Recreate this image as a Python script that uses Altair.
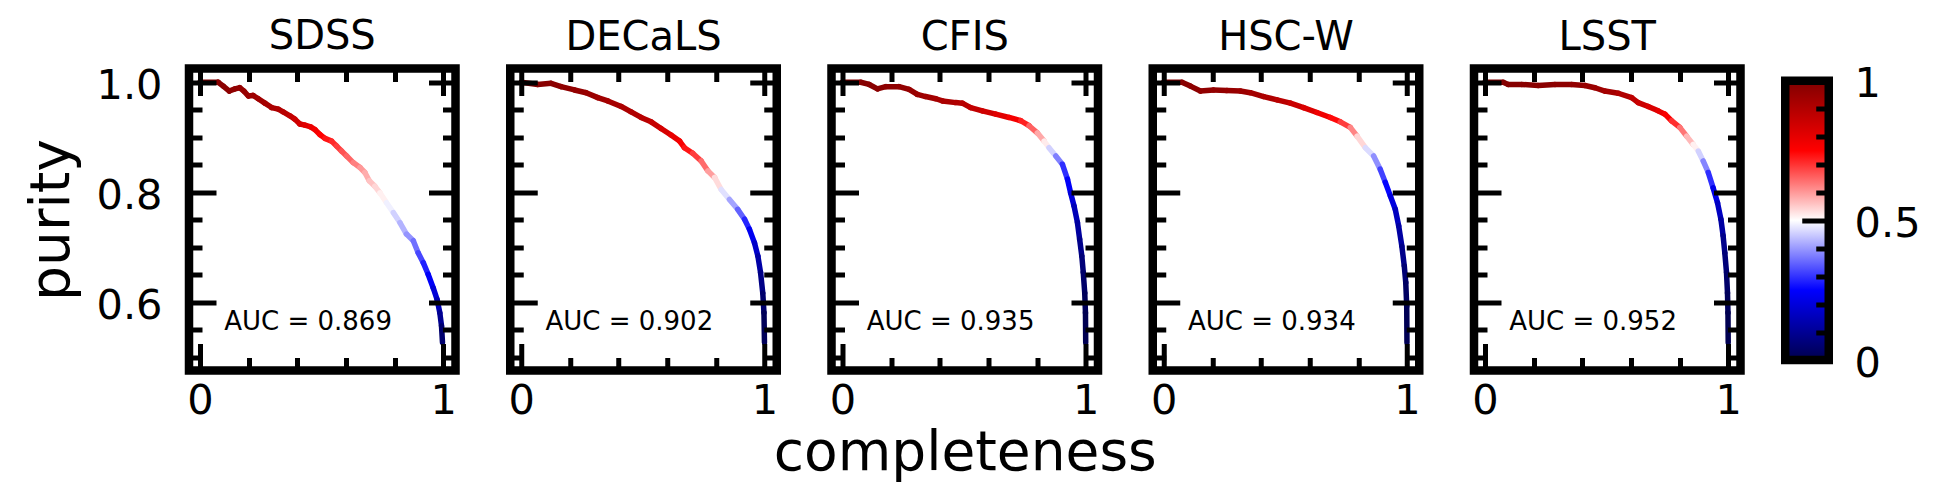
import altair as alt
import pandas as pd

FONT = "DejaVu Sans"

SURVEYS = ["SDSS", "DECaLS", "CFIS", "HSC-W", "LSST"]
AUC_LABELS = ["AUC = 0.869", "AUC = 0.902", "AUC = 0.935", "AUC = 0.934", "AUC = 0.952"]
AUC_X = 0.1
AUC_Y = 0.55

SDSS_C = [0.0, 0.075, 0.096, 0.121, 0.144, 0.164, 0.181, 0.199, 0.219, 0.240, 0.267, 0.295, 0.322, 0.342,
          0.370, 0.390, 0.411, 0.432, 0.455, 0.473, 0.493, 0.514, 0.541, 0.562, 0.582, 0.603, 0.630, 0.658,
          0.678, 0.696, 0.719, 0.740, 0.767, 0.795, 0.822, 0.849, 0.877, 0.897, 0.918, 0.938, 0.959, 0.975,
          0.986, 0.993, 0.997]
SDSS_P = [1.0, 1.0, 0.993, 0.984, 0.988, 0.990, 0.984, 0.975, 0.976, 0.970, 0.962, 0.954, 0.951, 0.946,
          0.939, 0.933, 0.924, 0.922, 0.919, 0.914, 0.905, 0.898, 0.893, 0.884, 0.875, 0.866, 0.854, 0.845,
          0.836, 0.821, 0.811, 0.799, 0.781, 0.763, 0.745, 0.724, 0.712, 0.690, 0.672, 0.651, 0.626, 0.605,
          0.581, 0.557, 0.527]
SDSS_T = [1.0, 0.99, 0.98, 0.975, 0.97, 0.965, 0.96, 0.95, 0.945, 0.94, 0.93, 0.92, 0.91, 0.90,
          0.88, 0.86, 0.84, 0.82, 0.80, 0.78, 0.76, 0.74, 0.72, 0.70, 0.68, 0.66, 0.64, 0.61,
          0.59, 0.57, 0.55, 0.53, 0.50, 0.47, 0.44, 0.41, 0.38, 0.34, 0.30, 0.26, 0.22, 0.17,
          0.12, 0.07, 0.02]

DECALS_C = [0.0, 0.068, 0.123, 0.164, 0.219, 0.267, 0.315, 0.356, 0.411, 0.452, 0.493, 0.534, 0.575, 0.616,
            0.651, 0.671, 0.705, 0.740, 0.767, 0.795, 0.822, 0.856, 0.890, 0.918, 0.938, 0.959, 0.973, 0.984,
            0.993, 0.998, 1.0]
DECALS_P = [1.0, 0.996, 0.998, 0.992, 0.986, 0.981, 0.972, 0.966, 0.956, 0.946, 0.936, 0.928, 0.916, 0.904,
            0.893, 0.881, 0.871, 0.857, 0.839, 0.827, 0.805, 0.787, 0.769, 0.751, 0.733, 0.708, 0.684, 0.654,
            0.617, 0.581, 0.527]
DECALS_T = [1.0, 0.99, 0.98, 0.975, 0.965, 0.955, 0.945, 0.93, 0.92, 0.91, 0.90, 0.88, 0.85, 0.81,
            0.78, 0.75, 0.71, 0.67, 0.62, 0.57, 0.50, 0.44, 0.38, 0.31, 0.26, 0.20, 0.15, 0.10,
            0.06, 0.03, 0.0]

CFIS_C = [0.0, 0.075, 0.110, 0.144, 0.178, 0.233, 0.274, 0.308, 0.342, 0.384, 0.411, 0.466, 0.493, 0.527,
          0.575, 0.630, 0.685, 0.733, 0.767, 0.801, 0.829, 0.849, 0.877, 0.904, 0.925, 0.938, 0.952, 0.966,
          0.975, 0.984, 0.990, 0.996, 0.999, 1.0]
CFIS_P = [1.0, 1.0, 0.996, 0.988, 0.992, 0.992, 0.987, 0.978, 0.974, 0.970, 0.966, 0.963, 0.962, 0.954,
          0.948, 0.942, 0.936, 0.930, 0.921, 0.908, 0.893, 0.881, 0.866, 0.851, 0.824, 0.799, 0.775, 0.745,
          0.715, 0.684, 0.654, 0.617, 0.581, 0.527]
CFIS_T = [1.0, 0.99, 0.985, 0.98, 0.975, 0.97, 0.96, 0.95, 0.94, 0.93, 0.92, 0.91, 0.90, 0.88,
          0.86, 0.83, 0.79, 0.75, 0.69, 0.62, 0.55, 0.49, 0.42, 0.33, 0.26, 0.22, 0.17, 0.13,
          0.10, 0.07, 0.05, 0.03, 0.01, 0.0]

HSC_C = [0.0, 0.075, 0.110, 0.151, 0.205, 0.260, 0.315, 0.356, 0.411, 0.466, 0.521, 0.575, 0.630, 0.685,
         0.726, 0.767, 0.795, 0.829, 0.863, 0.890, 0.911, 0.932, 0.952, 0.966, 0.979, 0.989, 0.995, 0.999, 1.0]
HSC_P = [1.0, 1.0, 0.993, 0.984, 0.986, 0.985, 0.984, 0.981, 0.974, 0.968, 0.962, 0.954, 0.945, 0.936,
         0.928, 0.918, 0.902, 0.881, 0.866, 0.842, 0.818, 0.793, 0.769, 0.739, 0.702, 0.666, 0.636, 0.593, 0.527]
HSC_T = [1.0, 0.99, 0.98, 0.97, 0.965, 0.96, 0.95, 0.94, 0.92, 0.90, 0.87, 0.84, 0.80, 0.76,
         0.72, 0.66, 0.58, 0.50, 0.43, 0.35, 0.28, 0.23, 0.18, 0.14, 0.10, 0.07, 0.04, 0.02, 0.0]

LSST_C = [0.0, 0.075, 0.096, 0.151, 0.219, 0.288, 0.356, 0.411, 0.452, 0.493, 0.548, 0.603, 0.630, 0.671,
          0.712, 0.740, 0.767, 0.801, 0.829, 0.856, 0.877, 0.897, 0.918, 0.938, 0.956, 0.970, 0.979, 0.986,
          0.993, 0.997, 0.999, 1.0]
LSST_P = [1.0, 1.0, 0.996, 0.996, 0.994, 0.996, 0.996, 0.994, 0.990, 0.984, 0.980, 0.972, 0.963, 0.956,
          0.948, 0.942, 0.930, 0.918, 0.902, 0.887, 0.875, 0.857, 0.836, 0.808, 0.781, 0.751, 0.721, 0.690,
          0.654, 0.617, 0.581, 0.527]
LSST_T = [1.0, 0.995, 0.99, 0.985, 0.98, 0.975, 0.97, 0.96, 0.95, 0.94, 0.92, 0.89, 0.87, 0.84,
          0.81, 0.78, 0.74, 0.67, 0.60, 0.54, 0.49, 0.42, 0.34, 0.25, 0.19, 0.14, 0.10, 0.07,
          0.05, 0.03, 0.01, 0.0]

CURVES = [(SDSS_C, SDSS_P, SDSS_T), (DECALS_C, DECALS_P, DECALS_T), (CFIS_C, CFIS_P, CFIS_T),
          (HSC_C, HSC_P, HSC_T), (LSST_C, LSST_P, LSST_T)]

X_TICKS = [0.0, 0.2, 0.4, 0.6, 0.8, 1.0]
Y_TICKS = [0.5, 0.55, 0.6, 0.65, 0.7, 0.75, 0.8, 0.85, 0.9, 0.95, 1.0]
CBAR_TICKS = [0.0, 0.1, 0.2, 0.3, 0.4, 0.5, 0.6, 0.7, 0.8, 0.9, 1.0]
X_DOMAIN = [-0.0448, 1.0505]
Y_DOMAIN = [0.476, 1.025]
SEISMIC_STOPS = [0.0, 0.25, 0.5, 0.75, 1.0]
SEISMIC_COLORS = ["#00004d", "#0000ff", "#ffffff", "#ff0000", "#800000"]

# layout / style
PANEL_W = 266.5
PANEL_H = 302
GAP = 54.25
FRAME = 8.5
MAJOR = 27
MINOR = 13
TICK_W = 5
LABEL_FS = 41.5


def segments(c, p, t):
    rows = []
    for i in range(len(c) - 1):
        rows.append({"c": c[i], "p": p[i], "c2": c[i + 1], "p2": p[i + 1],
                     "t": (t[i] + t[i + 1]) / 2})
    return pd.DataFrame(rows)


def tick_size(majors):
    cond = " || ".join(f"datum.value == {m}" for m in majors)
    return {"expr": f"({cond}) ? {-MAJOR} : {-MINOR}"}


def x_axis(orient, labels, title=None):
    kw = dict(orient=orient, values=X_TICKS, tickSize=tick_size([0, 1]), tickWidth=TICK_W,
              tickColor="black", domain=False, grid=False, zindex=1, labels=labels, title=title)
    if labels:
        kw.update(labelExpr="datum.value == 0 ? '0' : datum.value == 1 ? '1' : ''",
                  labelPadding=36.5, labelFontSize=LABEL_FS, labelFont=FONT, labelColor="black",
                  labelFlush=False, labelOverlap=False)
    if title:
        kw.update(titleFontSize=55, titleFont=FONT, titleFontWeight="normal", titleColor="black",
                  titlePadding=-9)
    return alt.Axis(**kw)


def y_axis(orient, labels, title=None):
    kw = dict(orient=orient, values=Y_TICKS, tickSize=tick_size([0.6, 0.8, 1]), tickWidth=TICK_W,
              tickColor="black", domain=False, grid=False, zindex=1, labels=labels, title=title)
    if labels:
        kw.update(labelExpr="(datum.value == 0.6 || datum.value == 0.8 || datum.value == 1) ? format(datum.value, '.1f') : ''",
                  labelPadding=54, labelFontSize=LABEL_FS, labelFont=FONT, labelColor="black",
                  labelFlush=False, labelOverlap=False, labelOffset=4)
    if title:
        kw.update(titleFontSize=55, titleFont=FONT, titleFontWeight="normal", titleColor="black",
                  titlePadding=15.4)
    return alt.Axis(**kw)


color_scale = alt.Scale(domain=SEISMIC_STOPS, range=SEISMIC_COLORS, interpolate="rgb")


def panel(k):
    c, p, t = CURVES[k]
    df = segments(c, p, t)
    xs = alt.Scale(domain=X_DOMAIN, nice=False, zero=False)
    ys = alt.Scale(domain=Y_DOMAIN, nice=False, zero=False)
    curve = alt.Chart(df).mark_rule(strokeWidth=5.5, strokeCap="round").encode(
        x=alt.X("c:Q", scale=xs, axis=x_axis("bottom", True, "completeness" if k == 2 else None)),
        x2="c2:Q",
        y=alt.Y("p:Q", scale=ys, axis=y_axis("left", k == 0, "purity" if k == 0 else None)),
        y2="p2:Q",
        color=alt.Color("t:Q", scale=color_scale, legend=None),
    )
    frame_axes = alt.Chart(df).mark_point(opacity=0).encode(
        x=alt.X("c:Q", scale=xs, axis=x_axis("top", False)),
        y=alt.Y("p:Q", scale=ys, axis=y_axis("right", False)),
    )
    auc = alt.Chart(pd.DataFrame({"x": [AUC_X], "y": [AUC_Y], "label": [AUC_LABELS[k]]})).mark_text(
        align="left", baseline="alphabetic", fontSize=26, font=FONT, color="black"
    ).encode(
        x=alt.X("x:Q", scale=xs, axis=None),
        y=alt.Y("y:Q", scale=ys, axis=None),
        text="label:N",
    )
    return alt.layer(curve, frame_axes, auc).resolve_axis(x="independent", y="independent").properties(
        width=PANEL_W, height=PANEL_H,
        title=alt.TitleParams(text=SURVEYS[k], fontSize=40, font=FONT, fontWeight="normal",
                              color="black", offset=8, anchor="middle"),
    )


gradient = alt.LinearGradient(
    gradient="linear",
    stops=[alt.GradientStop(color=col, offset=o) for o, col in zip(SEISMIC_STOPS, SEISMIC_COLORS)],
    x1=0, x2=0, y1=1, y2=0,
)

cb_df = pd.DataFrame({"v0": [CBAR_TICKS[0]], "v1": [CBAR_TICKS[-1]]})
cb_axis = alt.Axis(orient="right", values=CBAR_TICKS, tickSize=tick_size([0, 0.5, 1]), tickWidth=TICK_W,
                   tickColor="black", domain=False, grid=False, zindex=1,
                   labelExpr="datum.value == 0 ? '0' : datum.value == 0.5 ? '0.5' : datum.value == 1 ? '1' : ''",
                   labelPadding=52.3, labelFontSize=LABEL_FS, labelFont=FONT, labelColor="black",
                   labelFlush=False, labelOverlap=False, labelOffset=4, title=None)
cbar = alt.Chart(cb_df).mark_rect(fill=gradient, stroke="black", strokeWidth=FRAME).encode(
    x=alt.X("v0:Q", scale=alt.Scale(domain=[0, 1], range=[-10, 33.5]), axis=None),
    x2="v1:Q",
    y=alt.Y("v0:Q", scale=alt.Scale(domain=[0, 1], range=[291.5, 12.3]), axis=cb_axis),
    y2="v1:Q",
).properties(width=33.5, height=PANEL_H, view=alt.ViewBackground(stroke="transparent"))

chart = alt.hconcat(*[panel(k) for k in range(5)], cbar, spacing=GAP, bounds="flush").properties(
    padding={"left": 12, "top": 4.5, "right": 5, "bottom": 5}
).configure(
    font=FONT,
    view=alt.ViewConfig(stroke="black", strokeWidth=FRAME),
)

chart.save("out.html", embed_options={"renderer": "svg", "actions": False})
